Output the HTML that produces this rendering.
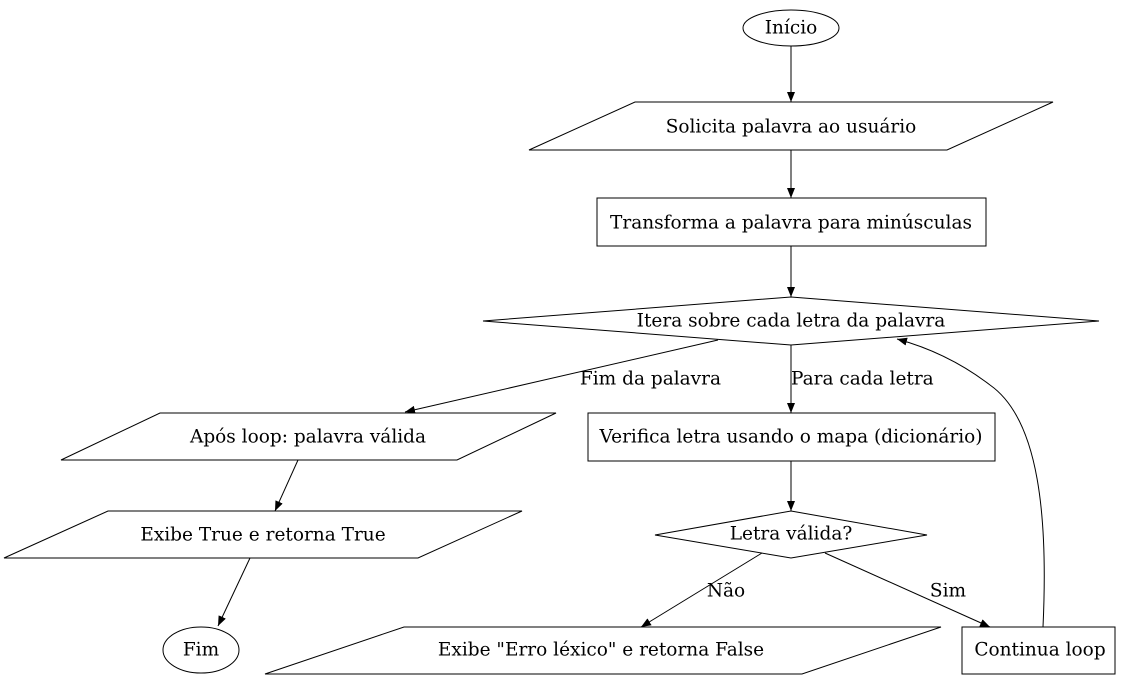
<!DOCTYPE html>
<html><head><meta charset="utf-8"><style>
html,body{margin:0;padding:0;background:#fff;}
svg text{font-family:"DejaVu Serif","Liberation Serif",serif;font-size:18.5px;fill:#000;}
</style></head><body>
<svg width="1123" height="680" viewBox="0 0 1123 680" xmlns="http://www.w3.org/2000/svg">
<defs><marker id="a" markerWidth="10" markerHeight="8" refX="10" refY="4" orient="auto" markerUnits="userSpaceOnUse"><path d="M0,0 L10,4 L0,8 Z" fill="#000"/></marker></defs>
<g fill="none" stroke="#000" stroke-width="1">
<ellipse cx="791" cy="28" rx="48" ry="18"/>
<polygon points="635,102 1053,102 947,150 529,150"/>
<rect x="597" y="198" width="389" height="48"/>
<polygon points="791,297 1099,321 791,345 483,321"/>
<polygon points="160,413 556,413 457,460 61,460"/>
<rect x="588" y="413" width="407" height="48"/>
<polygon points="791,511 927,535 791,558 655,535"/>
<polygon points="108,511 522,511 418,558 4,558"/>
<ellipse cx="201" cy="650" rx="38" ry="23"/>
<polygon points="404,627 941,627 802,674 265,674"/>
<rect x="962" y="627" width="153" height="47"/>
<g marker-end="url(#a)">
<line x1="791" y1="46" x2="791" y2="102"/>
<line x1="791" y1="150" x2="791" y2="198"/>
<line x1="791" y1="246" x2="791" y2="297"/>
<line x1="791" y1="345" x2="791" y2="413"/>
<line x1="718" y1="340" x2="405" y2="412"/>
<line x1="791" y1="461" x2="791" y2="511"/>
<line x1="298" y1="460" x2="275" y2="511"/>
<line x1="250" y1="558" x2="218" y2="626"/>
<line x1="762" y1="553" x2="641" y2="627"/>
<line x1="825" y1="553" x2="990" y2="627"/>
<path d="M1043,627 C1048,520 1040,420 990,385 C960,362 930,348 897,339"/>
</g>
</g>
<g text-anchor="middle" dominant-baseline="central">
<text x="791" y="28">Início</text>
<text x="791" y="127">Solicita palavra ao usuário</text>
<text x="791" y="223">Transforma a palavra para minúsculas</text>
<text x="791" y="321">Itera sobre cada letra da palavra</text>
<text x="308" y="437">Após loop: palavra válida</text>
<text x="791" y="437">Verifica letra usando o mapa (dicionário)</text>
<text x="791" y="534">Letra válida?</text>
<text x="263" y="535">Exibe True e retorna True</text>
<text x="201" y="650">Fim</text>
<text x="601" y="650">Exibe "Erro léxico" e retorna False</text>
<text x="1040" y="650">Continua loop</text>
<text x="721" y="379" text-anchor="end">Fim da palavra</text>
<text x="791" y="379" text-anchor="start">Para cada letra</text>
<text x="726" y="591">Não</text>
<text x="948" y="591">Sim</text>
</g>
</svg>
</body></html>
